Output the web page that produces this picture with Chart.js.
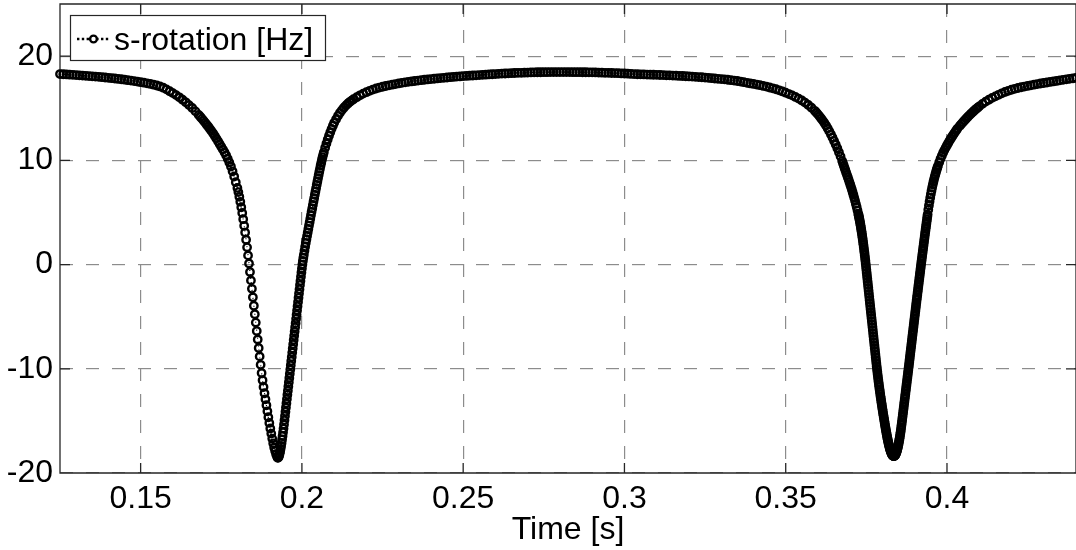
<!DOCTYPE html>
<html>
<head>
<meta charset="utf-8">
<title>s-rotation</title>
<script src="https://cdn.jsdelivr.net/npm/chart.js@4.4.0/dist/chart.umd.min.js"></script>
<style>
  html, body { margin: 0; padding: 0; background: #fff; overflow: hidden; }
  canvas { display: block; }
</style>
</head>
<body>
<canvas id="rotation_chart" width="1076" height="550"></canvas>
<script>
const seriesLabel = "s-rotation [Hz]";
const xTitle = "Time [s]";
const xRange = [0.125, 0.44];
const yRange = [-20, 25];
const xTicks = [0.15, 0.2, 0.25, 0.3, 0.35, 0.4];
const yTicks = [-20, -10, 0, 10, 20];

// samples as [time (s), rotation (Hz)]
const leftShoulder = [
  [0.125, 18.28], [0.126, 18.26], [0.127, 18.24], [0.128, 18.22], [0.129, 18.2], [0.13, 18.18],
  [0.131, 18.16], [0.132, 18.13], [0.133, 18.11], [0.134, 18.08], [0.135, 18.06], [0.136, 18.03],
  [0.137, 18.01], [0.138, 17.98], [0.139, 17.95], [0.14, 17.92], [0.141, 17.88], [0.142, 17.85],
  [0.143, 17.81], [0.144, 17.78], [0.145, 17.74], [0.146, 17.69], [0.147, 17.65], [0.148, 17.6],
  [0.149, 17.55], [0.15, 17.5], [0.151, 17.45], [0.152, 17.39], [0.153, 17.33], [0.154, 17.26],
  [0.155, 17.18], [0.156, 17.09], [0.157, 16.97], [0.158, 16.81], [0.159, 16.63], [0.16, 16.45],
  [0.161, 16.26], [0.162, 16.05], [0.163, 15.82], [0.164, 15.57], [0.165, 15.3], [0.166, 15.02],
  [0.167, 14.7], [0.168, 14.36], [0.1685, 14.18], [0.169, 14.0], [0.1695, 13.81], [0.17, 13.62],
  [0.1705, 13.42], [0.171, 13.22], [0.1715, 13.01], [0.172, 12.8], [0.1725, 12.57], [0.173, 12.33],
  [0.1735, 12.08], [0.174, 11.83], [0.1745, 11.57], [0.175, 11.3], [0.1755, 11.05], [0.176, 10.78],
  [0.1765, 10.48], [0.177, 10.16], [0.1775, 9.8], [0.178, 9.4], [0.1785, 8.95], [0.179, 8.45],
  [0.1795, 7.9], [0.18, 7.35],
];

const firstDip = [
  [0.1803, 6.95], [0.1806, 6.5], [0.1809, 6.02], [0.1812, 5.5], [0.1815, 4.95], [0.1818, 4.35],
  [0.1821, 3.72], [0.1824, 3.07], [0.1827, 2.38], [0.183, 1.65], [0.1833, 0.88], [0.1836, 0.1],
  [0.1839, -0.71], [0.1842, -1.52], [0.1845, -2.33], [0.1848, -3.14], [0.1851, -3.95], [0.1854, -4.76],
  [0.1857, -5.57], [0.186, -6.38], [0.1863, -7.19], [0.1866, -8.0], [0.1869, -8.81], [0.1872, -9.62],
  [0.1875, -10.4], [0.1878, -11.1], [0.1881, -11.75], [0.1884, -12.35], [0.1887, -12.93], [0.189, -13.5],
  [0.1893, -14.08], [0.1896, -14.65], [0.1899, -15.2], [0.1902, -15.73], [0.1905, -16.22], [0.1908, -16.7],
  [0.1911, -17.15], [0.1914, -17.55], [0.1917, -17.9], [0.192, -18.2], [0.1923, -18.42], [0.1925, -18.55],
  [0.19265, -18.52], [0.1928, -18.44], [0.19295, -18.31], [0.1931, -18.14], [0.19325, -17.93], [0.1934, -17.68],
  [0.19355, -17.41], [0.1937, -17.11], [0.19385, -16.79], [0.194, -16.45], [0.19415, -16.1], [0.1943, -15.74],
  [0.19445, -15.34], [0.1946, -14.93], [0.19475, -14.53], [0.1949, -14.12], [0.19505, -13.72], [0.1952, -13.31],
  [0.19535, -12.91], [0.1955, -12.5], [0.19565, -12.1], [0.1958, -11.69], [0.19595, -11.29], [0.1961, -10.88],
  [0.19625, -10.48], [0.1964, -10.07], [0.19655, -9.67], [0.1967, -9.26], [0.19685, -8.86], [0.197, -8.45],
  [0.19715, -8.05], [0.1973, -7.64], [0.19745, -7.24], [0.1976, -6.83], [0.19775, -6.43], [0.1979, -6.02],
  [0.19805, -5.62], [0.1982, -5.21], [0.19835, -4.81], [0.1985, -4.4], [0.19865, -4.0], [0.1988, -3.59],
  [0.19895, -3.19], [0.1991, -2.78], [0.19925, -2.38], [0.1994, -1.97], [0.19955, -1.57], [0.1997, -1.16],
  [0.19985, -0.76], [0.2, -0.37], [0.20015, 0.0], [0.2003, 0.34], [0.20045, 0.65],
  [0.2006, 0.95], [0.2008, 1.33], [0.201, 1.7], [0.2012, 2.06], [0.2014, 2.41],
  [0.2016, 2.75], [0.2018, 3.08], [0.202, 3.41], [0.2022, 3.74], [0.2024, 4.07], [0.2026, 4.4],
  [0.2028, 4.73], [0.203, 5.06], [0.2032, 5.39], [0.2034, 5.72], [0.2036, 6.05], [0.2038, 6.37],
  [0.204, 6.69], [0.2042, 7.01], [0.2044, 7.33], [0.2046, 7.65], [0.2048, 7.97], [0.205, 8.28],
  [0.2052, 8.59], [0.2054, 8.9], [0.2056, 9.2], [0.2058, 9.5], [0.206, 9.78], [0.2062, 10.05],
  [0.2064, 10.31], [0.2066, 10.55], [0.2068, 10.78], [0.2072, 11.21], [0.2076, 11.62], [0.208, 12.0],
  [0.2084, 12.36], [0.2088, 12.7], [0.2092, 13.02], [0.2096, 13.32], [0.21, 13.6], [0.2106, 13.95],
  [0.2112, 14.27], [0.2118, 14.56], [0.2124, 14.82], [0.213, 15.05], [0.2136, 15.25], [0.2142, 15.43],
  [0.2148, 15.59], [0.2154, 15.73], [0.216, 15.86],
];

const plateau = [
  [0.217, 16.06], [0.218, 16.24], [0.219, 16.4], [0.22, 16.54], [0.221, 16.67], [0.222, 16.79],
  [0.223, 16.89], [0.224, 16.98], [0.225, 17.06], [0.226, 17.13], [0.227, 17.2], [0.228, 17.26],
  [0.229, 17.32], [0.23, 17.38], [0.231, 17.43], [0.232, 17.48], [0.233, 17.53], [0.234, 17.57],
  [0.235, 17.61], [0.236, 17.65], [0.237, 17.69], [0.238, 17.73], [0.239, 17.76], [0.24, 17.8],
  [0.241, 17.83], [0.242, 17.86], [0.243, 17.89], [0.244, 17.92], [0.245, 17.95], [0.246, 17.98],
  [0.247, 18.0], [0.248, 18.03], [0.249, 18.05], [0.25, 18.08], [0.251, 18.1], [0.252, 18.12],
  [0.253, 18.14], [0.254, 18.16], [0.255, 18.18], [0.256, 18.2], [0.257, 18.22], [0.258, 18.24],
  [0.259, 18.26], [0.26, 18.28], [0.261, 18.3], [0.262, 18.32], [0.263, 18.33], [0.264, 18.35],
  [0.265, 18.36], [0.266, 18.38], [0.267, 18.39], [0.268, 18.4], [0.269, 18.41], [0.27, 18.42],
  [0.271, 18.43], [0.272, 18.44], [0.273, 18.45], [0.274, 18.45], [0.275, 18.46], [0.276, 18.46],
  [0.277, 18.47], [0.278, 18.47], [0.279, 18.47], [0.28, 18.47], [0.281, 18.47], [0.282, 18.47],
  [0.283, 18.47], [0.284, 18.46], [0.285, 18.46], [0.286, 18.46], [0.287, 18.45], [0.288, 18.45],
  [0.289, 18.44], [0.29, 18.44], [0.291, 18.43], [0.292, 18.42], [0.293, 18.41], [0.294, 18.4],
  [0.295, 18.39], [0.296, 18.38], [0.297, 18.37], [0.298, 18.36], [0.299, 18.34], [0.3, 18.33],
  [0.301, 18.31], [0.302, 18.29], [0.303, 18.27], [0.304, 18.26], [0.305, 18.25], [0.306, 18.24],
  [0.307, 18.23], [0.308, 18.22], [0.309, 18.21], [0.31, 18.2], [0.311, 18.19], [0.312, 18.18],
  [0.313, 18.16], [0.314, 18.15], [0.315, 18.13], [0.316, 18.12], [0.317, 18.1], [0.318, 18.09],
  [0.319, 18.07], [0.32, 18.05], [0.321, 18.03], [0.322, 18.01], [0.323, 17.99], [0.324, 17.97],
  [0.325, 17.94], [0.326, 17.91], [0.327, 17.88], [0.328, 17.85], [0.329, 17.82], [0.33, 17.8],
  [0.331, 17.77], [0.332, 17.73], [0.333, 17.69], [0.334, 17.65], [0.335, 17.61], [0.336, 17.56],
  [0.337, 17.5], [0.338, 17.44], [0.339, 17.38], [0.34, 17.33], [0.341, 17.27], [0.342, 17.21],
  [0.343, 17.14], [0.344, 17.07], [0.345, 16.99], [0.346, 16.91], [0.347, 16.82], [0.348, 16.72],
  [0.349, 16.61], [0.35, 16.49], [0.351, 16.36], [0.352, 16.23], [0.353, 16.08], [0.354, 15.92],
  [0.355, 15.74], [0.356, 15.54], [0.357, 15.31], [0.358, 15.05], [0.359, 14.75], [0.3595, 14.59],
  [0.36, 14.41], [0.3605, 14.22], [0.361, 14.02], [0.3615, 13.81], [0.362, 13.58], [0.3625, 13.34],
  [0.363, 13.08],
];

const secondDip = [
  [0.3635, 12.8], [0.364, 12.5], [0.3645, 12.19], [0.365, 11.86], [0.3655, 11.52], [0.366, 11.16],
  [0.3665, 10.78], [0.367, 10.38], [0.3675, 9.95], [0.36775, 9.72], [0.368, 9.5], [0.36825, 9.27],
  [0.3685, 9.05], [0.36875, 8.82], [0.369, 8.6], [0.36925, 8.37], [0.3695, 8.15], [0.36975, 7.91],
  [0.37, 7.68], [0.37025, 7.44], [0.3705, 7.2], [0.37075, 6.94], [0.371, 6.68], [0.37125, 6.4],
  [0.3715, 6.12], [0.37175, 5.82], [0.372, 5.52], [0.37225, 5.2], [0.3725, 4.88],
  [0.3726, 4.74], [0.3727, 4.59], [0.3728, 4.44], [0.3729, 4.28], [0.373, 4.12], [0.3731, 3.95],
  [0.3732, 3.77], [0.3733, 3.58], [0.3734, 3.39], [0.3735, 3.2], [0.3736, 3.0], [0.3737, 2.79],
  [0.3738, 2.57], [0.3739, 2.35], [0.374, 2.12], [0.3741, 1.89], [0.3742, 1.65], [0.3743, 1.4],
  [0.3744, 1.15], [0.3745, 0.89], [0.3746, 0.63], [0.3747, 0.36], [0.3748, 0.08], [0.3749, -0.2],
  [0.375, -0.49], [0.3751, -0.78], [0.3752, -1.07], [0.3753, -1.36], [0.3754, -1.65], [0.3755, -1.94],
  [0.3756, -2.23], [0.3757, -2.52], [0.3758, -2.81], [0.3759, -3.1], [0.376, -3.39], [0.3761, -3.68],
  [0.3762, -3.97], [0.3763, -4.26], [0.3764, -4.55], [0.3765, -4.84], [0.3766, -5.13], [0.3767, -5.42],
  [0.3768, -5.71], [0.3769, -6.0], [0.377, -6.29], [0.3771, -6.58], [0.3772, -6.87], [0.3773, -7.16],
  [0.3774, -7.45], [0.3775, -7.74], [0.3776, -8.03], [0.3777, -8.32], [0.3778, -8.61], [0.3779, -8.9],
  [0.378, -9.19], [0.3781, -9.47], [0.3782, -9.75], [0.3783, -10.02], [0.3784, -10.29], [0.3785, -10.55],
  [0.3786, -10.8], [0.3787, -11.05], [0.3788, -11.29], [0.3789, -11.53], [0.379, -11.76], [0.3791, -11.99],
  [0.3792, -12.21], [0.3793, -12.43], [0.3794, -12.65], [0.3795, -12.86], [0.3796, -13.07], [0.3797, -13.28],
  [0.3798, -13.48], [0.3799, -13.68], [0.38, -13.88], [0.3801, -14.08], [0.3802, -14.28], [0.3803, -14.47],
  [0.3804, -14.66], [0.3805, -14.85], [0.3806, -15.04], [0.3807, -15.23], [0.3808, -15.41], [0.3809, -15.59],
  [0.381, -15.77], [0.3811, -15.95], [0.3812, -16.12], [0.3813, -16.29], [0.3814, -16.45], [0.3815, -16.61],
  [0.3816, -16.76], [0.3817, -16.91], [0.3818, -17.05], [0.3819, -17.19], [0.382, -17.32], [0.3821, -17.44],
  [0.3822, -17.56], [0.3823, -17.67], [0.3824, -17.77], [0.3825, -17.87], [0.3826, -17.96], [0.3827, -18.04],
  [0.3828, -18.11], [0.3829, -18.18], [0.383, -18.24], [0.3831, -18.29], [0.3832, -18.33], [0.3833, -18.36],
  [0.3834, -18.38], [0.3835, -18.39], [0.3836, -18.38], [0.3837, -18.36], [0.3838, -18.33], [0.3839, -18.29],
  [0.384, -18.24], [0.3841, -18.18], [0.3842, -18.11], [0.3843, -18.03], [0.3844, -17.94], [0.3845, -17.84],
  [0.3846, -17.73], [0.3847, -17.61], [0.3848, -17.48], [0.3849, -17.34], [0.385, -17.19], [0.3851, -17.03],
  [0.3852, -16.86], [0.3853, -16.68], [0.3854, -16.49], [0.3855, -16.29], [0.3856, -16.08], [0.3857, -15.87],
  [0.3858, -15.64], [0.3859, -15.4], [0.386, -15.16], [0.3861, -14.91], [0.3862, -14.66], [0.3863, -14.41],
  [0.3864, -14.16], [0.3865, -13.91], [0.3866, -13.66], [0.3867, -13.41], [0.3868, -13.16], [0.3869, -12.91],
  [0.387, -12.66], [0.3871, -12.41], [0.3872, -12.16], [0.3873, -11.91], [0.3874, -11.66], [0.3875, -11.41],
  [0.3876, -11.16], [0.3877, -10.91], [0.3878, -10.66], [0.3879, -10.41], [0.388, -10.16], [0.3881, -9.91],
  [0.3882, -9.65], [0.3883, -9.39], [0.3884, -9.13], [0.3885, -8.87], [0.3886, -8.61], [0.3887, -8.35],
  [0.3888, -8.09], [0.3889, -7.83], [0.389, -7.57], [0.3891, -7.31], [0.3892, -7.05], [0.3893, -6.79],
  [0.3894, -6.53], [0.3895, -6.27], [0.3896, -6.01], [0.3897, -5.75], [0.3898, -5.49], [0.3899, -5.23],
  [0.39, -4.97], [0.3901, -4.71], [0.3902, -4.45], [0.3903, -4.19], [0.3904, -3.93], [0.3905, -3.67],
  [0.3906, -3.41], [0.3907, -3.16], [0.3908, -2.91], [0.3909, -2.66], [0.391, -2.41], [0.3911, -2.16],
  [0.3912, -1.91], [0.3913, -1.66], [0.3914, -1.41], [0.3915, -1.16], [0.3916, -0.91], [0.3917, -0.66],
  [0.3918, -0.41], [0.3919, -0.16], [0.392, 0.09], [0.3921, 0.33], [0.3922, 0.57], [0.3923, 0.81],
  [0.3924, 1.05], [0.3925, 1.29], [0.3926, 1.53], [0.3927, 1.77], [0.3928, 2.01], [0.3929, 2.25],
  [0.393, 2.49], [0.3931, 2.73], [0.3932, 2.97], [0.3933, 3.2], [0.3934, 3.43], [0.3935, 3.66],
  [0.3936, 3.89], [0.3937, 4.12], [0.3938, 4.35], [0.3939, 4.58], [0.394, 4.8],
  [0.3942, 5.25], [0.3944, 5.66], [0.3946, 6.05], [0.3948, 6.42], [0.395, 6.76], [0.3952, 7.08],
  [0.3954, 7.39], [0.3956, 7.67], [0.3958, 7.94], [0.396, 8.2], [0.3962, 8.44], [0.3964, 8.67],
  [0.3966, 8.88], [0.3968, 9.09], [0.397, 9.29], [0.3972, 9.47], [0.3976, 9.82], [0.398, 10.15],
  [0.3984, 10.44], [0.3988, 10.72], [0.3992, 10.98], [0.3996, 11.22], [0.4, 11.45], [0.4004, 11.67],
  [0.4008, 11.89], [0.4012, 12.09], [0.4016, 12.29], [0.402, 12.48], [0.4024, 12.66], [0.4028, 12.85],
  [0.4032, 13.03],
];

const rightShoulder = [
  [0.404, 13.32], [0.4045, 13.5], [0.405, 13.68], [0.4055, 13.85], [0.406, 14.02], [0.4065, 14.18],
  [0.407, 14.34], [0.4075, 14.49], [0.408, 14.64], [0.4085, 14.78], [0.409, 14.92], [0.4095, 15.05],
  [0.41, 15.18], [0.411, 15.42], [0.412, 15.63], [0.413, 15.82], [0.414, 15.99], [0.415, 16.14],
  [0.416, 16.29], [0.417, 16.43], [0.418, 16.56], [0.419, 16.67], [0.42, 16.77], [0.421, 16.86],
  [0.422, 16.94], [0.423, 17.01], [0.424, 17.08], [0.425, 17.14], [0.426, 17.2], [0.427, 17.26],
  [0.428, 17.32], [0.429, 17.37], [0.43, 17.42], [0.431, 17.47], [0.432, 17.52], [0.433, 17.57],
  [0.434, 17.62], [0.435, 17.67], [0.436, 17.72], [0.437, 17.77], [0.438, 17.82], [0.439, 17.87],
  [0.44, 17.92], [0.441, 17.96],
];

const samples = leftShoulder.concat(firstDip, plateau, secondDip, rightShoulder);

const fontFamily = "'Liberation Sans', Arial, Helvetica, sans-serif";
const axisColor = "#262626";
const gridColor = "#8c8c8c";
const labelFont = { family: fontFamily, size: 32 };

// box round the plot with inward ticks on all sides
const axesBox = {
  id: "axesBox",
  beforeDatasetsDraw(chart) {
    const { ctx, chartArea: a, scales } = chart;
    ctx.save();
    ctx.strokeStyle = axisColor;
    ctx.lineWidth = 1.3;
    ctx.beginPath();
    ctx.rect(a.left, a.top, a.right - a.left, a.bottom - a.top);
    xTicks.forEach((v) => {
      const px = scales.x.getPixelForValue(v);
      ctx.moveTo(px, a.bottom);
      ctx.lineTo(px, a.bottom - 10);
      ctx.moveTo(px, a.top);
      ctx.lineTo(px, a.top + 10);
    });
    yTicks.forEach((v) => {
      const py = scales.y.getPixelForValue(v);
      ctx.moveTo(a.left, py);
      ctx.lineTo(a.left + 10, py);
      ctx.moveTo(a.right, py);
      ctx.lineTo(a.right - 10, py);
    });
    ctx.stroke();
    ctx.restore();
  },
};

// legend box in the upper left corner: dotted line with a circle marker
const legendBox = {
  id: "legendBox",
  afterDraw(chart) {
    const ctx = chart.ctx;
    const ds = chart.data.datasets[0];
    const box = { x: 70, y: 15, w: 255, h: 45 };
    const midY = box.y + 24;
    ctx.save();
    ctx.fillStyle = "#fff";
    ctx.fillRect(box.x, box.y, box.w, box.h);
    ctx.strokeStyle = axisColor;
    ctx.lineWidth = 1.2;
    ctx.strokeRect(box.x + 0.5, box.y + 0.5, box.w, box.h);

    ctx.strokeStyle = ds.borderColor;
    ctx.lineWidth = 2.4;
    ctx.setLineDash([2.4, 2.4]);
    ctx.beginPath();
    ctx.moveTo(77, midY);
    ctx.lineTo(109, midY);
    ctx.stroke();
    ctx.setLineDash([]);
    ctx.fillStyle = "#fff";
    ctx.lineWidth = 2.4;
    ctx.beginPath();
    ctx.arc(93.5, midY, 3.4, 0, Math.PI * 2);
    ctx.fill();
    ctx.stroke();

    ctx.fillStyle = "#000";
    ctx.font = `${labelFont.size}px ${fontFamily}`;
    ctx.textBaseline = "alphabetic";
    ctx.textAlign = "left";
    ctx.fillText(ds.label, 114, 50);
    ctx.restore();
  },
};

new Chart(document.getElementById("rotation_chart").getContext("2d"), {
  type: "line",
  data: {
    datasets: [
      {
        label: seriesLabel,
        data: samples.map((p) => ({ x: p[0], y: p[1] })),
        borderColor: "#000",
        borderWidth: 1.2,
        borderDash: [1, 3],
        pointStyle: "circle",
        pointRadius: 3.7,
        pointBorderWidth: 2.4,
        pointBorderColor: "#000",
        pointBackgroundColor: "rgba(0,0,0,0)",
        clip: false,
        tension: 0,
      },
    ],
  },
  options: {
    responsive: false,
    animation: false,
    devicePixelRatio: 1,
    layout: { autoPadding: false, padding: { top: 4, right: 0, left: 0, bottom: 0 } },
    plugins: {
      legend: { display: false },
      tooltip: { enabled: false },
    },
    scales: {
      x: {
        type: "linear",
        position: "bottom",
        min: xRange[0],
        max: xRange[1],
        afterBuildTicks: (scale) => {
          scale.ticks = xTicks.map((v) => ({ value: v }));
        },
        afterFit: (scale) => {
          scale.height = 77;
          scale.paddingLeft = 0;
          scale.paddingRight = 0;
        },
        grid: { color: gridColor, lineWidth: 1.2, drawTicks: false },
        border: { display: false, dash: [13, 13] },
        ticks: {
          padding: 7,
          color: "#000",
          font: labelFont,
          maxRotation: 0,
          autoSkip: false,
          callback: (v) => String(v),
        },
        title: {
          display: true,
          text: xTitle,
          color: "#000",
          font: labelFont,
          padding: { top: 0, bottom: 1 },
        },
      },
      y: {
        type: "linear",
        min: yRange[0],
        max: yRange[1],
        afterBuildTicks: (scale) => {
          scale.ticks = yTicks.map((v) => ({ value: v }));
        },
        afterFit: (scale) => {
          scale.width = 60;
          scale.paddingTop = 0;
          scale.paddingBottom = 0;
        },
        grid: { color: gridColor, lineWidth: 1.2, drawTicks: false },
        border: { display: false, dash: [13, 13] },
        ticks: {
          padding: 7,
          color: "#000",
          font: labelFont,
          callback: (v) => String(v),
        },
      },
    },
  },
  plugins: [axesBox, legendBox],
});
</script>
</body>
</html>
